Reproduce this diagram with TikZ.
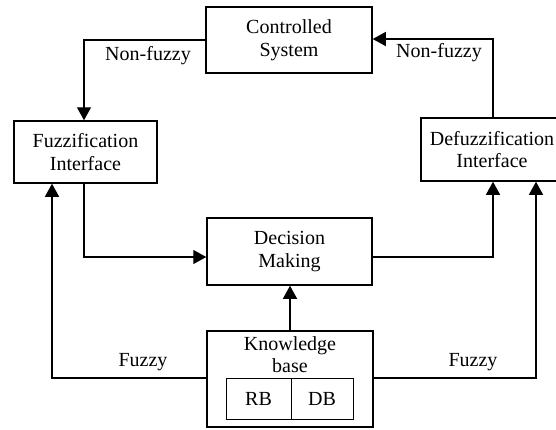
\documentclass[tikz,border=0pt]{standalone}
\usepackage{fontspec}
\setmainfont{Liberation Serif}
\usetikzlibrary{arrows.meta,calc}
\begin{document}
\begin{tikzpicture}[x=1pt,y=-1pt,
  txt/.style={font=\fontsize{20}{22.5}\selectfont},
  box/.style={draw,line width=1.5pt,inner sep=0pt,align=center,txt},
  sub/.style={draw,line width=1pt,inner sep=0pt,txt},
  conn/.style={line width=1.3pt},
  arr/.style={conn,-{Triangle[width=14pt,length=13pt]}},
  lbl/.style={inner sep=0pt,txt}]
\useasboundingbox (0,0) rectangle (556,429);
\clip (0,0) rectangle (556,429);
% boxes
\node[box,minimum width=166pt,minimum height=66pt] (cs) at (289,40) {Controlled\\System};
\node[box,minimum width=143pt,minimum height=62pt] (fuzz) at (85.5,152) {Fuzzification\\Interface};
\node[box,minimum width=142pt,minimum height=63pt] (dfz) at (492,149.5) {Defuzzification\\Interface};
\node[box,minimum width=165pt,minimum height=67pt] (dm) at (289.5,251.5) {Decision\\Making};
\node[box,minimum width=166pt,minimum height=96pt] (kb) at (290,379) {};
\node[lbl,align=center] (kbt) at (290,354.5) {Knowledge\\base};
\node[sub,minimum width=65pt,minimum height=41pt] (rb) at (258.5,398.5) {RB};
\node[sub,minimum width=62pt,minimum height=41pt] (db) at (322,398.5) {DB};
% bend points
\coordinate (c1) at (84,40);
\coordinate (c2) at (84,257);
\coordinate (c3) at (493,257);
\coordinate (c4) at (493,39);
\coordinate (c5) at (52,378);
\coordinate (c6) at (536,378);
% connectors
\draw[arr] (cs.west |- c1) -- (c1) -- (c1 |- fuzz.north);
\draw[arr] (fuzz.south -| c2) -- (c2) -- (c2 -| dm.west);
\draw[arr] (c3 -| dm.east) -- (c3) -- (c3 |- dfz.south);
\draw[arr] (c4 |- dfz.north) -- (c4) -- (c4 -| cs.east);
\draw[arr] (kb.north) -- (kb.north |- dm.south);
\draw[arr] (c5 -| kb.west) -- (c5) -- (c5 |- fuzz.south);
\draw[arr] (c6 -| kb.east) -- (c6) -- (c6 |- dfz.south);
% labels
\node[lbl] (l1) at (148,56) {Non-fuzzy};
\node[lbl] (l2) at (439,53) {Non-fuzzy};
\node[lbl] (l3) at (143,362) {Fuzzy};
\node[lbl] (l4) at (473,362) {Fuzzy};
\end{tikzpicture}
\end{document}
